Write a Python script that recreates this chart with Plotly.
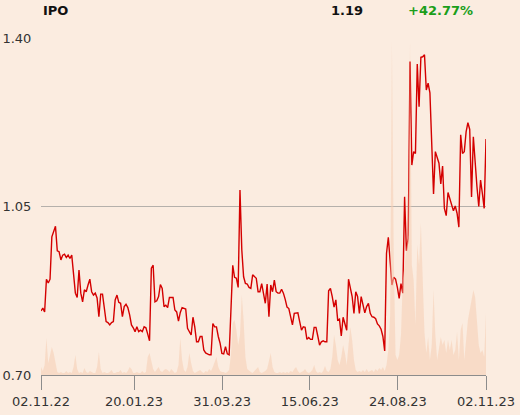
import plotly.graph_objects as go

# ---- data ----
price = [
    0.833, 0.839, 0.831, 0.899, 0.891, 0.899, 0.987, 1.001, 1.009, 0.958,
    0.956, 0.939, 0.949, 0.951, 0.944, 0.949, 0.942, 0.949, 0.908, 0.870,
    0.861, 0.918, 0.870, 0.852, 0.877, 0.873, 0.887, 0.899, 0.873, 0.866,
    0.870, 0.860, 0.821, 0.868, 0.868, 0.835, 0.811, 0.809, 0.804, 0.809,
    0.811, 0.856, 0.866, 0.851, 0.849, 0.821, 0.842, 0.847, 0.840, 0.825,
    0.804, 0.798, 0.790, 0.800, 0.790, 0.793, 0.790, 0.800, 0.798, 0.785,
    0.771, 0.922, 0.928, 0.852, 0.854, 0.863, 0.888, 0.880, 0.842, 0.845,
    0.840, 0.861, 0.861, 0.861, 0.835, 0.831, 0.812, 0.830, 0.840, 0.838,
    0.837, 0.797, 0.789, 0.783, 0.820, 0.800, 0.769, 0.769, 0.780, 0.780,
    0.752, 0.746, 0.744, 0.742, 0.742, 0.807, 0.800, 0.800, 0.780, 0.766,
    0.745, 0.744, 0.759, 0.744, 0.742, 0.828, 0.928, 0.903, 0.901, 0.882,
    1.084, 0.960, 0.904, 0.890, 0.889, 0.882, 0.880, 0.908, 0.904, 0.901,
    0.873, 0.873, 0.890, 0.870, 0.849, 0.889, 0.821, 0.887, 0.873, 0.897,
    0.873, 0.870, 0.870, 0.878, 0.870, 0.857, 0.841, 0.838, 0.821, 0.804,
    0.828, 0.829, 0.829, 0.811, 0.793, 0.800, 0.799, 0.774, 0.778, 0.774,
    0.774, 0.799, 0.799, 0.781, 0.762, 0.769, 0.771, 0.769, 0.769, 0.875,
    0.880, 0.863, 0.841, 0.856, 0.814, 0.816, 0.781, 0.820, 0.804, 0.793,
    0.899, 0.880, 0.863, 0.828, 0.873, 0.863, 0.828, 0.863, 0.849, 0.829,
    0.842, 0.849, 0.828, 0.821, 0.820, 0.817, 0.806, 0.802, 0.795, 0.780,
    0.750, 0.953, 0.986, 0.939, 0.887, 0.903, 0.899, 0.882, 0.859, 0.890,
    0.870, 1.070, 0.958, 0.984, 1.351, 1.136, 1.164, 1.160, 1.346, 1.257,
    1.360, 1.361, 1.365, 1.292, 1.306, 1.286, 1.167, 1.076, 1.164, 1.153,
    1.140, 1.097, 1.134, 1.046, 1.031, 1.079, 1.065, 1.050, 1.041, 1.051,
    1.036, 1.007, 1.199, 1.160, 1.164, 1.205, 1.224, 1.210, 1.070, 1.195,
    1.133, 1.091, 1.050, 1.105, 1.077, 1.046, 1.190,
]

volume_k = [
    24, 12, 30, 111, 36, 60, 84, 66, 30, 9,
    6, 9, 6, 6, 12, 6, 9, 6, 24, 60,
    18, 6, 9, 6, 21, 9, 6, 12, 9, 6,
    6, 24, 69, 18, 6, 9, 6, 6, 9, 15,
    6, 6, 9, 9, 15, 6, 9, 6, 12, 24,
    18, 6, 6, 9, 6, 6, 12, 6, 9, 54,
    66, 39, 18, 9, 15, 24, 12, 9, 15, 18,
    15, 9, 18, 12, 6, 9, 30, 111, 45, 15,
    9, 24, 66, 36, 12, 6, 9, 12, 15, 9,
    6, 12, 9, 18, 12, 24, 39, 54, 24, 12,
    9, 9, 6, 9, 15, 60, 156, 165, 135, 90,
    120, 240, 165, 54, 18, 12, 9, 6, 12, 18,
    24, 9, 6, 9, 12, 18, 45, 66, 24, 9,
    6, 6, 9, 6, 9, 6, 9, 6, 12, 9,
    18, 24, 12, 6, 9, 12, 18, 9, 6, 9,
    15, 30, 12, 6, 9, 6, 12, 27, 12, 9,
    18, 54, 120, 90, 45, 30, 54, 90, 66, 30,
    90, 144, 105, 45, 15, 9, 12, 9, 15, 9,
    18, 9, 12, 15, 9, 18, 12, 21, 15, 24,
    12, 30, 75, 180, 999, 360, 60, 45, 60, 120,
    285, 330, 390, 420, 999, 330, 285, 150, 390, 330,
    456, 300, 126, 66, 114, 45, 90, 255, 120, 45,
    84, 114, 90, 105, 66, 105, 75, 105, 60, 75,
    129, 45, 135, 156, 45, 120, 165, 195, 225, 255,
    234, 165, 90, 66, 75, 54, 186,
]

tick_labels = ["02.11.22", "20.01.23", "31.03.23", "15.06.23", "24.08.23", "02.11.23"]
y_ticks = [0.70, 1.05, 1.40]

name = "IPO"
last_price = "1.19"
change = "+42.77%"

# ---- figure ----
n = len(price)
idx = list(range(n))
tick_frac = [0.0, 0.209, 0.407, 0.604, 0.802, 1.0]
tickvals = [f * (n - 1) for f in tick_frac]

BG = "#fbece0"
fig = go.Figure()

fig.add_trace(go.Scatter(
    x=idx, y=volume_k, yaxis="y2", mode="lines",
    line=dict(width=0, color="rgba(246,206,178,0.55)"),
    fill="tozeroy", fillcolor="rgba(246,206,178,0.55)",
    hoverinfo="skip", showlegend=False,
))
fig.add_trace(go.Scatter(
    x=idx, y=price, mode="lines",
    line=dict(color="#d40000", width=1.4),
    showlegend=False,
))

fig.update_layout(
    width=520, height=415,
    margin=dict(l=41, r=34, t=38, b=40, pad=0, autoexpand=False),
    paper_bgcolor=BG, plot_bgcolor=BG,
    font=dict(family="DejaVu Sans", size=13, color="#333333"),
    xaxis=dict(
        range=[0, n - 1], tickvals=tickvals, ticktext=tick_labels,
        showgrid=False, zeroline=False, showline=True, linecolor="#8c8c8c", linewidth=1,
        ticks="outside", ticklen=14, tickcolor="#8c8c8c", tickwidth=1,
        tickfont=dict(size=13, color="#333333"), automargin=False,
    ),
    yaxis=dict(
        range=[0.70, 1.40], tickvals=y_ticks, ticktext=[f"{v:.2f}" for v in y_ticks],
        showgrid=True, gridcolor="#b5b0ab", gridwidth=1, zeroline=False,
        showline=False, ticks="outside", ticklen=6, tickcolor="rgba(0,0,0,0)",
        tickfont=dict(size=13, color="#333333"), automargin=False,
    ),
    yaxis2=dict(
        overlaying="y", range=[0, max(volume_k) * 1.012], visible=False,
        showgrid=False, zeroline=False, automargin=False,
    ),
)

head_y = 1 + 28 / 337
fig.add_annotation(text=f"<b>{name}</b>", xref="paper", yref="paper", x=0, y=head_y,
                   xanchor="left", yanchor="middle", showarrow=False,
                   font=dict(size=13, color="#111111"))
fig.add_annotation(text=f"<b>{last_price}</b>", xref="paper", yref="paper", x=0.728, y=head_y,
                   xanchor="right", yanchor="middle", showarrow=False,
                   font=dict(size=13, color="#111111"))
fig.add_annotation(text=f"<b>{change}</b>", xref="paper", yref="paper", x=0.975, y=head_y,
                   xanchor="right", yanchor="middle", showarrow=False,
                   font=dict(size=13, color="#1a9e1a"))

fig.write_html(
    "out.html",
    config={"displayModeBar": False},
    post_script="document.body.style.margin='0';document.body.style.background='" + BG + "';",
)
